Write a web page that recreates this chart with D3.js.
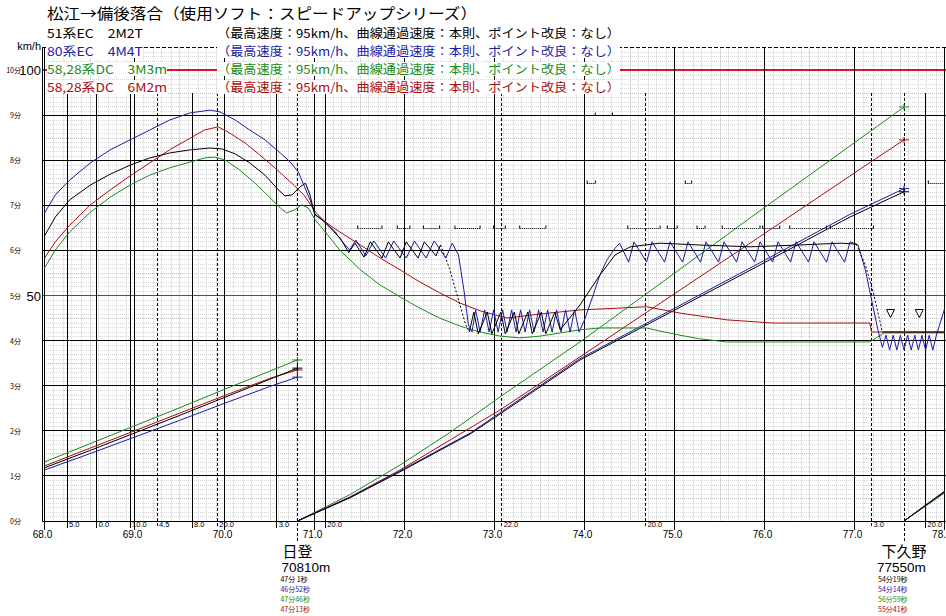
<!DOCTYPE html>
<html><head><meta charset="utf-8">
<script src="https://cdn.jsdelivr.net/npm/d3@7"></script>
<style>body{margin:0;background:#fff}svg{display:block}</style>
</head><body>
<svg id="c" width="946" height="616"></svg>
<script>
// ---------- data ----------
const kmTicks = [68, 69, 70, 71, 72, 73, 74, 75, 76, 77, 78];
const kmLabels = ["68.0","69.0","70.0","71.0","72.0","73.0","74.0","75.0","76.0","77.0","78."];
const timeTicks = [0,1,2,3,4,5,6,7,8,9,10];
const timeLabels = ["0分","1分","2分","3分","4分","5分","6分","7分","8分","9分","10分"];
const speedLabels = [[100,"100"],[50,"50"]];
const gradeKm = [68.25, 68.58, 68.95, 69.25, 69.64, 69.92, 70.58, 71.12, 73.08, 74.68, 77.19, 77.79];
const gradeLabel = ["5.0","0.0","10.0","4.5","8.0","20.0","3.0","20.0","22.0","20.0","3.0","20.0"];
const gradeDashed = [false,false,false,true,false,true,false,false,true,true,true,false];
const stations = ["日登","下久野"];
const stationKm = [70.81, 77.55];
const stationDist = ["70810m","77550m"];
const stationTimes = [["47分 1秒","46分52秒","47分46秒","47分13秒"],["54分19秒","54分14秒","56分59秒","55分41秒"]];
const seriesNames = ["51系EC　2M2T","80系EC　4M4T","58,28系DC　3M3m","58,28系DC　6M2m"];
const seriesNote = "（最高速度：95km/h、曲線通過速度：本則、ポイント改良：なし）";
const title = "松江→備後落合（使用ソフト：スピードアップシリーズ）";
const signalKm = [77.4, 77.72];
const signalSpeed = 46;

// speed curves [km, km/h]
const blackSpeed = [[68.0,63.2],[68.12,67.4],[68.28,71.2],[68.51,74.5],[68.73,76.9],[68.95,78.9],[69.17,80.5],[69.39,81.6],[69.62,82.3],[69.84,82.7],[69.97,82.5],[70.12,81.4],[70.28,79.4],[70.45,76.7],[70.58,73.8],[70.67,72.1],[70.75,72.3],[70.84,74.1],[70.9,74.9],[70.95,72.3],[71.0,68.1],[71.09,66.7],[71.2,64.5],[71.3,62.3],[71.38,59.5],[71.45,61.6],[71.55,58.5],[71.62,61.9],[71.75,58.3],[71.82,61.9],[71.95,58.3],[72.02,61.9],[72.15,58.3],[72.22,61.9],[72.35,58.8],[72.4,61.2]];
const blackCoast1 = [[72.4,61.2],[72.5,56.0],[72.6,49.0],[72.68,43.5],[72.72,41.9]];
const blackSpeed2 = [[72.72,41.9],[72.77,46.3],[72.82,41.5],[72.92,46.3],[72.97,41.5],[73.07,46.3],[73.12,41.5],[73.22,46.3],[73.27,41.5],[73.37,46.3],[73.42,41.5],[73.52,46.3],[73.57,41.5],[73.67,46.3],[73.73,42.4],[73.95,47.9],[74.17,54.5],[74.34,59.0],[74.51,60.8],[74.84,61.6],[75.28,61.2],[75.84,60.8],[76.39,61.2],[76.84,61.6],[77.02,61.4]];
const blackCoast2 = [[77.02,61.4],[77.12,56.8],[77.21,50.6],[77.31,41.9]];
const blackSpeed3 = [[77.31,41.9],[78.0,41.9]];
const blueSpeed = [[68.0,68.3],[68.12,72.3],[68.28,75.6],[68.51,79.4],[68.73,82.3],[68.95,84.5],[69.17,86.7],[69.39,88.9],[69.62,90.5],[69.84,91.1],[69.95,90.7],[70.12,88.9],[70.28,86.7],[70.45,84.5],[70.62,81.6],[70.73,79.6],[70.82,77.4],[70.89,74.1],[70.95,71.2],[71.01,67.8],[71.12,66.3],[71.23,64.1],[71.31,61.9],[71.39,60.1],[71.46,62.3],[71.57,58.8],[71.66,62.1],[71.79,58.3],[71.88,62.1],[72.02,58.3],[72.11,62.1],[72.24,58.3],[72.33,62.1],[72.46,58.3],[72.53,61.6],[72.6,59.0],[72.66,51.2],[72.71,43.5],[72.75,41.9],[72.79,46.8],[72.84,41.9],[72.89,46.8],[72.94,41.9],[72.99,46.8],[73.04,41.9],[73.09,46.8],[73.14,41.9],[73.19,46.8],[73.24,41.9],[73.29,46.8],[73.34,41.9],[73.39,46.8],[73.44,41.9],[73.49,46.8],[73.54,41.9],[73.59,46.8],[73.64,41.9],[73.69,46.8],[73.74,41.9],[73.79,46.8],[73.84,41.9],[73.89,46.8],[73.94,41.9],[74.0,44.6],[74.09,49.7],[74.17,54.5],[74.25,57.9],[74.34,60.5],[74.39,61.6],[74.49,57.4],[74.55,61.9],[74.69,57.4],[74.75,61.9],[74.89,57.4],[74.95,61.9],[75.09,57.4],[75.15,61.9],[75.29,57.4],[75.35,61.9],[75.49,57.4],[75.55,61.9],[75.69,57.4],[75.75,61.9],[75.89,57.4],[75.95,61.9],[76.09,57.4],[76.15,61.9],[76.29,57.4],[76.35,61.9],[76.49,57.4],[76.55,61.9],[76.69,57.4],[76.75,61.9],[76.89,57.4],[76.95,61.9],[77.04,61.2],[77.12,55.7],[77.19,49.0],[77.26,42.4],[77.31,38.5],[77.35,41.2],[77.39,37.9],[77.43,41.2],[77.47,37.9],[77.51,41.2],[77.55,37.9],[77.59,41.2],[77.63,37.9],[77.67,41.2],[77.71,37.9],[77.75,41.2],[77.79,37.9],[77.83,41.2],[77.87,37.9],[77.91,41.2],[78.0,47.0]];
const greenSpeed = [[68.0,56.1],[68.12,60.1],[68.28,64.1],[68.51,68.5],[68.73,71.8],[68.95,74.5],[69.17,76.7],[69.39,78.3],[69.62,79.6],[69.78,80.5],[69.89,80.7],[70.01,80.0],[70.17,77.8],[70.34,74.9],[70.51,71.6],[70.62,69.4],[70.69,68.3],[70.78,69.0],[70.86,70.1],[70.93,69.4],[71.01,66.7],[71.12,64.1],[71.28,60.1],[71.51,55.7],[71.73,52.3],[71.95,49.7],[72.17,47.2],[72.39,45.0],[72.62,43.2],[72.84,41.9],[73.06,41.0],[73.28,40.6],[73.51,41.0],[73.73,41.7],[73.95,42.4],[74.17,42.8],[74.69,42.8],[74.84,42.1],[75.06,41.2],[75.28,40.4],[75.58,39.7],[76.39,39.7],[77.17,39.7],[77.33,41.7],[78.0,41.7]];
const redSpeed = [[68.0,58.3],[68.12,61.9],[68.28,65.6],[68.51,70.1],[68.73,73.4],[68.95,76.5],[69.17,79.4],[69.39,82.3],[69.62,84.9],[69.78,86.7],[69.93,87.4],[70.06,86.0],[70.23,83.8],[70.39,81.2],[70.56,78.3],[70.67,76.3],[70.78,74.3],[70.89,72.1],[71.01,68.5],[71.12,66.3],[71.28,64.1],[71.51,61.2],[71.73,58.3],[71.95,55.7],[72.17,53.0],[72.39,50.6],[72.62,48.3],[72.84,46.6],[73.14,45.0],[73.51,45.9],[73.95,46.8],[74.69,47.5],[75.06,46.1],[75.58,44.6],[76.09,43.9],[77.17,43.9],[77.19,41.9],[78.0,41.9]];

// elapsed-time curves [km, minutes]
const blackTime = [[[68.0,1.18],[68.5,1.56],[69.0,1.95],[69.5,2.34],[70.0,2.74],[70.5,3.14],[70.81,3.39]],
  [[70.81,0],[71.39,0.51],[71.95,1.09],[72.73,1.93],[73.06,2.37],[73.95,3.57],[74.73,4.39],[75.84,5.56],[76.95,6.74],[77.55,7.30]],
  [[77.55,0],[78.0,0.66]]];
const blueTime = [[[68.0,1.13],[68.5,1.49],[69.0,1.86],[69.5,2.23],[70.0,2.61],[70.5,2.98],[70.81,3.19]],
  [[70.81,0],[71.39,0.52],[71.95,1.11],[72.73,1.95],[73.06,2.40],[73.95,3.60],[74.73,4.43],[75.84,5.61],[76.95,6.80],[77.55,7.37]],
  [[77.55,0],[78.0,0.64]]];
const greenTime = [[[68.0,1.31],[68.5,1.71],[69.0,2.11],[69.5,2.51],[70.0,2.92],[70.5,3.32],[70.81,3.57]],
  [[70.81,0],[71.39,0.58],[71.95,1.24],[72.51,1.97],[73.06,2.75],[73.95,3.97],[74.73,5.10],[75.84,6.72],[76.73,8.00],[77.55,9.18]],
  [[77.55,0],[78.0,0.62]]];
const redTime = [[[68.0,1.22],[68.5,1.61],[69.0,2.00],[69.5,2.39],[70.0,2.78],[70.5,3.16],[70.81,3.35]],
  [[70.81,0],[71.39,0.53],[71.95,1.13],[72.51,1.80],[73.06,2.46],[73.95,3.64],[74.73,4.68],[75.84,6.16],[77.21,8.00],[77.55,8.45]],
  [[77.55,0],[78.0,0.65]]];

// curve speed-limit marks [kmStart, kmEnd, km/h]
const limitMarks = [[74.12,74.31,90],[74.03,74.12,75],[75.12,75.19,75],[77.82,78.0,75],
  [71.48,71.75,65],[71.92,72.06,65],[72.21,72.39,65],[72.56,72.84,65],[72.99,73.12,65],[73.28,73.57,65],
  [74.48,74.84,65],[74.92,75.03,65],[75.25,75.34,65],[75.53,75.95,65],[75.98,76.17,65],[76.28,76.69,65],[76.73,77.21,65]];

// ---------- drawing ----------
const svg = d3.select("#c");
const x = d3.scaleLinear().domain([68, 78]).range([44.5, 944.5]);
const yV = d3.scaleLinear().domain([0, 100]).range([521, 70]);
const yT = d3.scaleLinear().domain([0, 10]).range([521, 70]);
const C = {black:"#000000", blue:"#1c1ca0", green:"#1a8a1a", red:"#a80c0c", lim:"#e0102a"};
const X0 = 42, X1 = 946, YTOP = yV(105), YB = 521;
const jp = "'Noto Sans CJK JP', sans-serif";
const lat = "'Liberation Sans', sans-serif";

const g = svg.append("g");
// minor grid
for (let v = 1; v < 105; v++) {
  if (v % 10 === 0) continue;
  g.append("line").attr("x1", X0).attr("x2", X1).attr("y1", Math.round(yV(v)) + 0.5).attr("y2", Math.round(yV(v)) + 0.5)
    .attr("stroke", v % 5 === 0 ? "#bcbcbc" : "#d6d6d6").attr("stroke-dasharray", "1,1");
}
for (let k = 0; k <= 100; k++) {
  if (k % 10 === 0) continue;
  const km = 68 + k / 10;
  g.append("line").attr("x1", Math.round(x(km)) + 0.5).attr("x2", Math.round(x(km)) + 0.5).attr("y1", YTOP).attr("y2", YB)
    .attr("stroke", k % 5 === 0 ? "#b4b4b4" : "#d2d2d2").attr("stroke-dasharray", "1,1");
}
// major horizontal lines
timeTicks.forEach(t => {
  if (t === 10 || t === 5) return;
  g.append("line").attr("x1", X0).attr("x2", X1).attr("y1", yT(t)).attr("y2", yT(t))
    .attr("stroke", "#000").attr("shape-rendering","crispEdges");
});
// top border dashed
g.append("line").attr("x1", X0).attr("x2", X1).attr("y1", YTOP).attr("y2", YTOP)
  .attr("stroke", "#000").attr("stroke-dasharray", "4,2").attr("shape-rendering","crispEdges");
// red reference lines
[100, 50].forEach(v => g.append("line").attr("x1", X0).attr("x2", X1).attr("y1", yV(v)).attr("y2", yV(v))
  .attr("stroke", C.lim).attr("stroke-width", 1.2).attr("shape-rendering","crispEdges"));
// km lines
kmTicks.forEach(k => g.append("line").attr("x1", x(k)).attr("x2", x(k)).attr("y1", YTOP).attr("y2", 530)
  .attr("stroke", "#000").attr("shape-rendering","crispEdges"));
// left axis
g.append("line").attr("x1", X0).attr("x2", X0).attr("y1", YTOP).attr("y2", YB).attr("stroke", "#000").attr("shape-rendering","crispEdges");
// gradient lines
gradeKm.forEach((k, i) => g.append("line").attr("x1", x(k)).attr("x2", x(k)).attr("y1", 93).attr("y2", 528)
  .attr("stroke", "#000").attr("stroke-dasharray", gradeDashed[i] ? "3,2" : null).attr("shape-rendering","crispEdges"));
// station lines
stationKm.forEach(k => g.append("line").attr("x1", x(k)).attr("x2", x(k)).attr("y1", 93).attr("y2", 543)
  .attr("stroke", "#000").attr("stroke-dasharray", "3,2").attr("shape-rendering","crispEdges"));
// bottom axis
g.append("line").attr("x1", X0).attr("x2", X1).attr("y1", YB).attr("y2", YB).attr("stroke", "#000").attr("shape-rendering","crispEdges");

// limit marks
limitMarks.forEach(([a, b, v]) => {
  const yy = Math.round(yV(v)) + 0.5;
  g.append("line").attr("x1", x(a)).attr("x2", x(b)).attr("y1", yy).attr("y2", yy)
    .attr("stroke", "#000").attr("stroke-dasharray", "1,1");
  [a, b].forEach(k => g.append("line").attr("x1", x(k)).attr("x2", x(k)).attr("y1", yy).attr("y2", yy - 3).attr("stroke", "#000"));
});
// signal triangles
signalKm.forEach(k => {
  const cx = x(k), cy = yV(signalSpeed);
  g.append("path").attr("d", `M${cx - 4},${cy - 4}L${cx + 4},${cy - 4}L${cx},${cy + 4}Z`).attr("fill", "#fff").attr("stroke", "#000");
});

// time curves
const lineGen = d3.line().x(d => x(d[0])).y(d => yT(d[1]));
const timeSets = [[greenTime, C.green],[redTime, C.red],[blueTime, C.blue],[blackTime, C.black]];
timeSets.forEach(([segs, col]) => segs.forEach((seg, si) => {
  g.append("path").attr("d", lineGen(seg)).attr("fill", "none").attr("stroke", col).attr("stroke-width", 1);
  if (si < 2) {
    const e = seg[seg.length - 1];
    g.append("line").attr("x1", x(e[0]) - 5).attr("x2", x(e[0]) + 5).attr("y1", yT(e[1])).attr("y2", yT(e[1])).attr("stroke", col);
    g.append("line").attr("x1", x(e[0])).attr("x2", x(e[0])).attr("y1", yT(e[1]) - 3).attr("y2", yT(e[1]) + 3).attr("stroke", col);
  }
}));

// speed curves
const sGen = d3.line().x(d => x(d[0])).y(d => yV(d[1]));
const drawS = (data, col, dash) => g.append("path").attr("d", sGen(data)).attr("fill", "none")
  .attr("stroke", col).attr("stroke-width", 1).attr("stroke-dasharray", dash || null);
drawS(greenSpeed, C.green);
drawS(redSpeed, C.red);
drawS(blueSpeed, C.blue);
drawS(blackSpeed, C.black);
drawS(blackCoast1, C.black, "2,2");
drawS(blackSpeed2, C.black);
drawS(blackCoast2, C.black, "2,2");
drawS(blackSpeed3, C.black);

// ---------- texts ----------
function txt(s, px, py, opt = {}) {
  const t = svg.append("text").attr("x", px).attr("y", py).text(s)
    .attr("font-family", opt.font || jp).attr("font-size", opt.size || 12)
    .attr("fill", opt.color || "#000").attr("text-anchor", opt.anchor || "start");
  if (opt.len) t.attr("textLength", opt.len).attr("lengthAdjust", "spacingAndGlyphs");
  return t;
}
function bgText(t) {
  const b = t.node().getBBox();
  svg.insert("rect", () => t.node()).attr("x", b.x).attr("y", b.y + 2).attr("width", b.width).attr("height", b.height - 4).attr("fill", "#fff");
}
txt(title, 47, 19, {size: 15, len: 430});
const rowY = [38, 56, 74, 92];
const rowCol = [C.black, C.blue, C.green, C.red];
const nameLen = [96, 96, 120, 120];
seriesNames.forEach((s, i) => {
  bgText(txt(s, 47, rowY[i], {size: 12.2, color: rowCol[i], len: nameLen[i]}));
  bgText(txt(seriesNote, 217, rowY[i], {size: 12.2, color: rowCol[i], len: 403}));
});
// y labels
txt("km/h", 41, 50, {size: 11, anchor: "end", font: lat});
timeTicks.forEach((t, i) => txt(timeLabels[i], 21, yT(t) + 3, {size: 7, anchor: "end"}));
speedLabels.forEach(([v, s]) => txt(s, 41, yV(v) + 5, {size: 13, anchor: "end", font: lat}));
// x labels
kmTicks.forEach((k, i) => {
  const last = i === kmTicks.length - 1;
  txt(kmLabels[i], last ? 946 : x(k) - 2, 537.5, {size: 10, anchor: last ? "end" : "middle", font: lat});
});
gradeKm.forEach((k, i) => txt(gradeLabel[i], x(k) + 2, 527, {size: 7.5, font: lat}));
// stations
const tCols = [C.black, C.blue, C.green, C.red];
stations.forEach((s, i) => {
  const sx = x(stationKm[i]);
  txt(s, sx, 557, {size: 15, anchor: "middle"});
  txt(stationDist[i], sx - (i === 0 ? 16 : 27), 572, {size: 13.5, font: lat});
  stationTimes[i].forEach((tt, j) => txt(tt, sx - (i === 0 ? 17 : 26), 582 + j * 10, {size: 7, color: tCols[j]}));
});
</script>
</body></html>
